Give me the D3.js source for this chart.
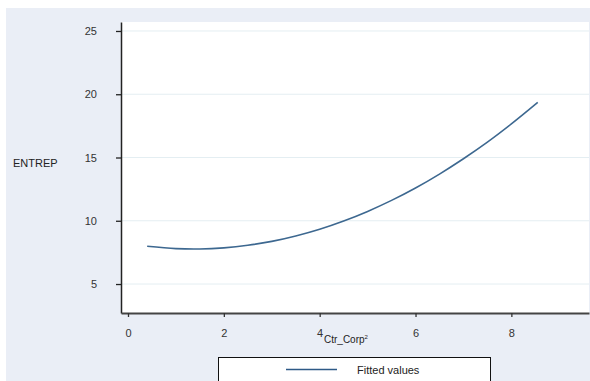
<!DOCTYPE html>
<html>
<head>
<meta charset="utf-8">
<style>
  body { margin: 0; background: #fff; }
  svg text { font-family: "Liberation Sans", Arial, sans-serif; }
</style>
</head>
<body>
<svg width="590" height="381"></svg>
<script src="https://cdn.jsdelivr.net/npm/d3@7/dist/d3.min.js"></script>
<script>
// fitted curve
var ctrCorp = [0.4, 1, 1.5, 2, 2.5, 3, 3.5, 4, 4.5, 5, 5.5, 6, 6.5, 7, 7.5, 8, 8.55];
var fitted  = [7.98, 7.80, 7.77, 7.86, 8.06, 8.37, 8.80, 9.33, 9.98, 10.74, 11.61, 12.59, 13.69, 14.90, 16.21, 17.65, 19.35];
var xTicks = [0, 2, 4, 6, 8];
var yTicks = [5, 10, 15, 20, 25];

var svg = d3.select("svg");

// outer panel
svg.append("rect").attr("x", 6).attr("y", 8).attr("width", 584).attr("height", 373).attr("fill", "#eaeef6");

var plot = {left: 121, top: 22, right: 589, bottom: 313};
svg.append("rect")
  .attr("x", plot.left).attr("y", plot.top)
  .attr("width", plot.right - plot.left).attr("height", plot.bottom - plot.top)
  .attr("fill", "#fff");

var x = d3.scaleLinear().domain([-0.146, 9.62]).range([plot.left, plot.right]);
var y = d3.scaleLinear().domain([2.71, 25.71]).range([plot.bottom, plot.top]);

// gridlines
svg.append("g").selectAll("line")
  .data(yTicks).enter().append("line")
  .attr("x1", plot.left).attr("x2", plot.right)
  .attr("y1", function(d) { return y(d); }).attr("y2", function(d) { return y(d); })
  .attr("stroke", "#e4eef2").attr("stroke-width", 1);

// y axis
var ya = svg.append("g").attr("transform", "translate(" + plot.left + ",0)")
  .call(d3.axisLeft(y).tickValues(yTicks).tickSize(5).tickPadding(19).tickSizeOuter(0));
ya.select(".domain").attr("stroke", "#222").attr("stroke-width", 1.5);
ya.selectAll(".tick line").attr("stroke", "#222").attr("stroke-width", 1.3);
ya.selectAll(".tick text").attr("fill", "#333").style("font-size", "11px");

// x axis
var xa = svg.append("g").attr("transform", "translate(0," + plot.bottom + ")")
  .call(d3.axisBottom(x).tickValues(xTicks).tickSize(4).tickPadding(12).tickSizeOuter(0));
xa.select(".domain").attr("stroke", "#444").attr("stroke-width", 2);
xa.selectAll(".tick line").attr("stroke", "#333").attr("stroke-width", 1.3);
xa.selectAll(".tick text").attr("fill", "#333").style("font-size", "11px");

// axis titles
svg.append("text").attr("x", 13).attr("y", 167).attr("fill", "#222")
  .style("font-size", "11px").text("ENTREP");
svg.append("text").attr("x", 324).attr("y", 343).attr("fill", "#222")
  .style("font-size", "10px")
  .text("Ctr_Corp").append("tspan").attr("dy", -4).style("font-size", "6px").text("2");

// fitted line
var line = d3.line()
  .x(function(d, i) { return x(ctrCorp[i]); })
  .y(function(d) { return y(d); })
  .curve(d3.curveCatmullRom);
svg.append("path").datum(fitted)
  .attr("d", line).attr("fill", "none")
  .attr("stroke", "#3d6890").attr("stroke-width", 1.6);

// legend
svg.append("rect").attr("x", 218.5).attr("y", 357.5).attr("width", 272).attr("height", 30)
  .attr("fill", "#fff").attr("stroke", "#111").attr("stroke-width", 1);
svg.append("line").attr("x1", 286).attr("x2", 337).attr("y1", 369.5).attr("y2", 369.5)
  .attr("stroke", "#2e5a87").attr("stroke-width", 1.3);
svg.append("text").attr("x", 357).attr("y", 373.5).attr("fill", "#222")
  .style("font-size", "11px").text("Fitted values");
</script>
</body>
</html>
